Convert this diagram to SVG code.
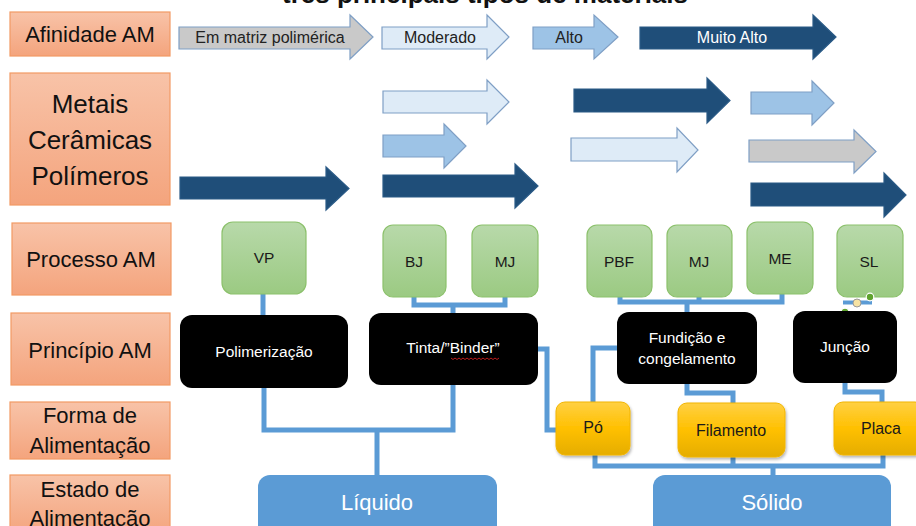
<svg xmlns="http://www.w3.org/2000/svg" width="916" height="526" viewBox="0 0 916 526">
<defs>
<linearGradient id="gOr" x1="0" y1="0" x2="0" y2="1"><stop offset="0" stop-color="#F8C3A8"/><stop offset="1" stop-color="#F4A47D"/></linearGradient>
<linearGradient id="gGr" x1="0" y1="0" x2="0" y2="1"><stop offset="0" stop-color="#B8D9AA"/><stop offset="1" stop-color="#9BCA82"/></linearGradient>
<linearGradient id="gYe" x1="0" y1="0" x2="0" y2="1"><stop offset="0" stop-color="#FFD043"/><stop offset="0.5" stop-color="#FFC000"/><stop offset="1" stop-color="#E5AD00"/></linearGradient>
<filter id="sh" x="-10%" y="-10%" width="130%" height="140%"><feDropShadow dx="1" dy="2" stdDeviation="1.5" flood-color="#000" flood-opacity="0.3"/></filter>
</defs>
<style>
text{font-family:"Liberation Sans",Arial,sans-serif;text-anchor:middle}
.lab rect{fill:url(#gOr);stroke:#F29A64;stroke-width:1.2}
.lab text{font-size:22px;fill:#111}
.proc rect{fill:url(#gGr);stroke:#8CC16C;stroke-width:1.2}
.proc text{font-size:15.5px;fill:#1a1a1a}
.prin rect{fill:#000}
.prin text{font-size:15.5px;fill:#fff}
.feed rect{fill:url(#gYe);stroke:#F2B500;stroke-width:1;filter:url(#sh)}
.feed text{font-size:16px;fill:#1a1a1a}
.state rect{fill:#5B9BD5}
.state text{font-size:22px;fill:#fff}
.ar path{stroke-width:1.2;stroke-linejoin:miter}
.dk{fill:#1F4E79;stroke:#2A5A86}
.lt{fill:#DEEBF7;stroke:#7F9FC5}
.md{fill:#9DC3E6;stroke:#7F9FC5}
.gy{fill:#C9C9C9;stroke:#7F9FC5}
.ar text{font-size:16px;fill:#222}
#connectors path{fill:none;stroke:#5B9BD5;stroke-width:5;stroke-linejoin:miter}
</style>

<text x="485" y="3" style="font-size:26px;font-weight:bold;fill:#111">três principais tipos de materiais</text>

<!-- left labels -->
<g id="lbl-afinidade" class="lab"><rect x="10" y="12" width="160" height="44"/><text x="90" y="42">Afinidade AM</text></g>
<g id="lbl-materiais" class="lab"><rect x="10" y="73" width="160" height="132"/><text x="90" y="113" style="font-size:26px">Metais</text><text x="90" y="149" style="font-size:26px">Cerâmicas</text><text x="90" y="185" style="font-size:26px">Polímeros</text></g>
<g id="lbl-processo" class="lab"><rect x="12" y="223" width="159" height="72"/><text x="91" y="267">Processo AM</text></g>
<g id="lbl-principio" class="lab"><rect x="11" y="313" width="159" height="72"/><text x="90" y="358">Princípio AM</text></g>
<g id="lbl-forma" class="lab"><rect x="10" y="402" width="160" height="57"/><text x="90" y="423">Forma de</text><text x="90" y="453">Alimentação</text></g>
<g id="lbl-estado" class="lab"><rect x="10" y="475" width="160" height="60"/><text x="90" y="497">Estado de</text><text x="90" y="526">Alimentação</text></g>

<!-- affinity arrows -->
<g id="ar-polimerica" class="ar"><path class="gy" d="M179,27 H350 V15 L373,37 L350,59 V49 H179 Z"/><text x="270" y="43">Em matriz polimérica</text></g>
<g id="ar-moderado" class="ar"><path class="lt" d="M382,27 H487 V15 L509,37 L487,59 V49 H382 Z"/><text x="440" y="43">Moderado</text></g>
<g id="ar-alto" class="ar"><path class="md" d="M533,27 H594 V15 L618,37 L594,59 V49 H533 Z"/><text x="569" y="43">Alto</text></g>
<g id="ar-muitoalto" class="ar"><path class="dk" d="M640,27 H813 V15 L836,37 L813,59 V49 H640 Z"/><text x="732" y="43" style="fill:#fff">Muito Alto</text></g>

<!-- material arrows -->
<g id="mat-arrows" class="ar">
<path class="dk" d="M180,177 H326 V167 L349,188.5 L326,210 V199 H180 Z"/>
<path class="lt" d="M383,91 H487 V80 L509,102 L487,124 V113 H383 Z"/>
<path class="md" d="M383,135 H444 V124 L466,146 L444,168 V157 H383 Z"/>
<path class="dk" d="M383,175 H515 V164 L538,186 L515,208 V197 H383 Z"/>
<path class="dk" d="M574,89 H707 V78 L730,100.5 L707,123 V112 H574 Z"/>
<path class="lt" d="M571,138 H677 V128 L698,150 L677,172 V161 H571 Z"/>
<path class="md" d="M751,92 H812 V81 L834,103 L812,125 V114 H751 Z"/>
<path class="gy" d="M749,140 H854 V130 L876,151.5 L854,173 V162 H749 Z"/>
<path class="dk" d="M751,183 H884 V173 L906,195 L884,217 V206 H751 Z"/>
</g>

<!-- connectors -->
<g id="connectors">
<path d="M263,294 V316"/>
<path d="M414,297 V305 H505 V297 M453,305 V314"/>
<path d="M264,387 V430 H453 V385 M377,430 V476"/>
<path d="M538,349 H547 V430 H557"/>
<path d="M618,348 H593 V403"/>
<path d="M687,384 V393 H733 V404"/>
<path d="M845,383 V392 H882 V403"/>
<path d="M620,297 V302 H782 V294 M699,297 V302 M687,302 V313"/>
<path d="M843,302.5 H872" style="stroke-width:4"/>
<path d="M595,455 V466 H883 V455 M733,457 V465 M773,465 V476"/>
</g>

<!-- process -->
<g id="p-vp" class="proc"><rect x="222" y="222" width="84" height="72" rx="11"/><text x="264" y="263">VP</text></g>
<g id="p-bj" class="proc"><rect x="383" y="225" width="63" height="72" rx="10"/><text x="414" y="267">BJ</text></g>
<g id="p-mj1" class="proc"><rect x="472" y="225" width="66" height="72" rx="10"/><text x="505" y="267">MJ</text></g>
<g id="p-pbf" class="proc"><rect x="587" y="225" width="65" height="72" rx="10"/><text x="619" y="267">PBF</text></g>
<g id="p-mj2" class="proc"><rect x="667" y="225" width="65" height="72" rx="10"/><text x="699" y="267">MJ</text></g>
<g id="p-me" class="proc"><rect x="747" y="222" width="66" height="72" rx="10"/><text x="780" y="264">ME</text></g>
<g id="p-sl" class="proc"><rect x="837" y="225" width="66" height="72" rx="10"/><text x="869" y="267">SL</text></g>

<!-- selection handles on SL connector -->
<g id="handles">
<circle cx="870" cy="297" r="3.8" fill="#5FA32E" stroke="#fff" stroke-width="1.2"/>
<circle cx="857" cy="303" r="4" fill="#F7E3A3" stroke="#9A9A9A" stroke-width="1"/>
<circle cx="845" cy="312" r="3.8" fill="#5FA32E" stroke="#fff" stroke-width="1.2"/>
</g>

<!-- principle -->
<g id="pr-polimerizacao" class="prin"><rect x="180" y="315" width="168" height="73" rx="12"/><text x="264" y="357">Polimerização</text></g>
<g id="pr-tinta" class="prin"><rect x="369" y="313" width="169" height="72" rx="12"/><text x="453" y="353">Tinta/”Binder”</text>
<path d="M451,358 l2,1.5 l2,-1.5 l2,1.5 l2,-1.5 l2,1.5 l2,-1.5 l2,1.5 l2,-1.5 l2,1.5 l2,-1.5 l2,1.5 l2,-1.5 l2,1.5 l2,-1.5 l2,1.5 l2,-1.5 l2,1.5 l2,-1.5 l2,1.5 l2,-1.5 l2,1.5 l2,-1.5 l2,1.5 l2,-1.5" fill="none" stroke="#D02020" stroke-width="0.9"/></g>
<g id="pr-fundicao" class="prin"><rect x="617" y="312" width="140" height="72" rx="12"/><text x="687" y="343">Fundição e</text><text x="687" y="364">congelamento</text></g>
<g id="pr-juncao" class="prin"><rect x="793" y="311" width="104" height="72" rx="12"/><text x="845" y="352">Junção</text></g>

<!-- feed form -->
<g id="f-po" class="feed"><rect x="556" y="402" width="74" height="53" rx="9"/><text x="593" y="433">Pó</text></g>
<g id="f-filamento" class="feed"><rect x="678" y="403" width="107" height="54" rx="9"/><text x="731" y="436">Filamento</text></g>
<g id="f-placa" class="feed"><rect x="834" y="402" width="90" height="53" rx="9"/><text x="881" y="434">Placa</text></g>

<!-- feed state -->
<g id="s-liquido" class="state"><rect x="258" y="475" width="239" height="70" rx="12"/><text x="377" y="510">Líquido</text></g>
<g id="s-solido" class="state"><rect x="653" y="475" width="238" height="70" rx="12"/><text x="772" y="510">Sólido</text></g>
</svg>
